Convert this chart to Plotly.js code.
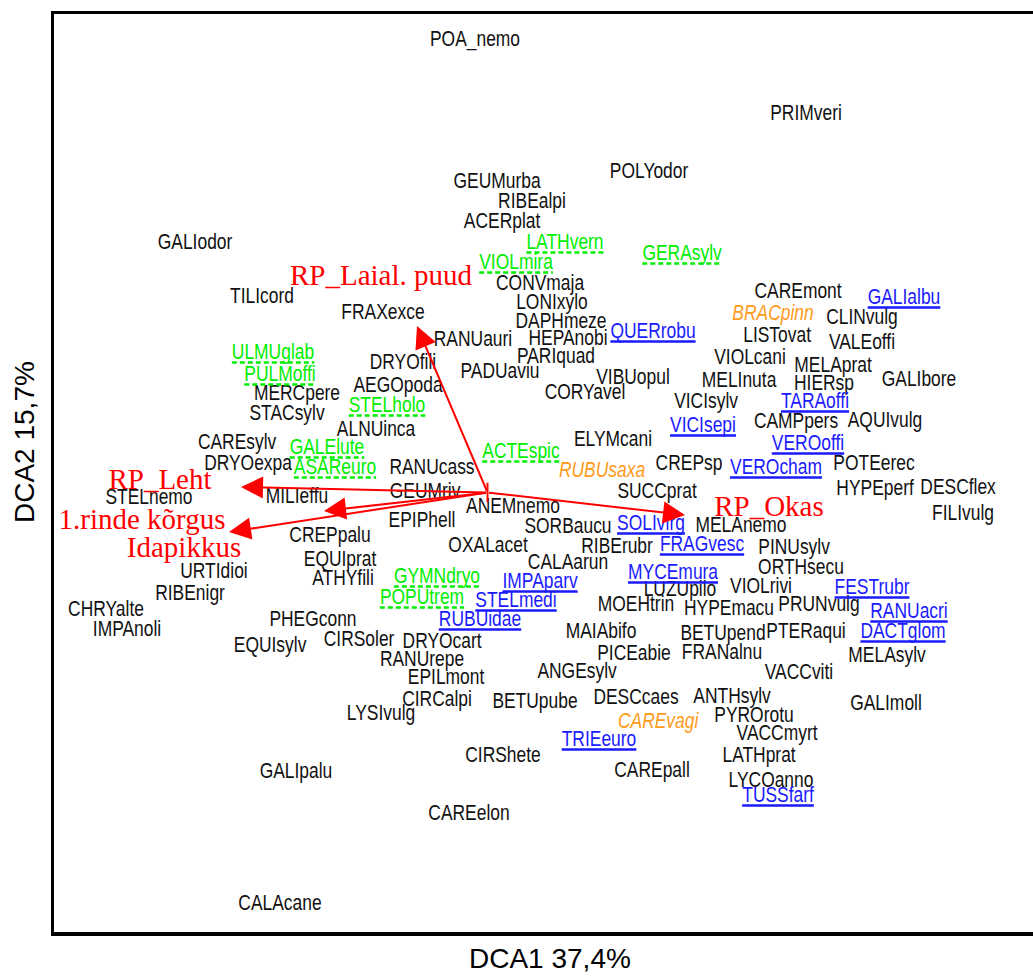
<!DOCTYPE html>
<html><head><meta charset="utf-8">
<script src="https://cdn.plot.ly/plotly-3.0.1.min.js"></script>
<style>html,body{margin:0;padding:0;background:#fff;}#chart{width:1033px;height:978px;}</style>
</head><body><div id="chart"></div>
<script>
// ---- species scores (DCA1, DCA2) ----
const blackNames = ["POA_nemo","PRIMveri","GEUMurba","POLYodor","RIBEalpi","ACERplat","GALIodor","CONVmaja","TILIcord","LONIxylo","CAREmont","FRAXexce","DAPHmeze","CLINvulg","RANUauri","HEPAnobi","LISTovat","VALEoffi","DRYOfili","PARIquad","VIOLcani","MELAprat","AEGOpoda","PADUaviu","VIBUopul","MELInuta","HIERsp","GALIbore","MERCpere","CORYavel","STACsylv","CAMPpers","AQUIvulg","ALNUinca","VICIsylv","CAREsylv","ELYMcani","DRYOexpa","RANUcass","CREPsp","POTEerec","STELnemo","MILIeffu","GEUMriv","SUCCprat","HYPEperf","DESCflex","ANEMnemo","EPIPhell","SORBaucu","MELAnemo","FILIvulg","CREPpalu","OXALacet","RIBErubr","PINUsylv","CALAarun","EQUIprat","URTIdioi","ORTHsecu","ATHYfili","RIBEnigr","LUZUpilo","VIOLrivi","CHRYalte","HYPEmacu","MOEHtrin","PRUNvulg","IMPAnoli","PHEGconn","EQUIsylv","CIRSoler","DRYOcart","MAIAbifo","BETUpend","PTERaqui","RANUrepe","PICEabie","FRANalnu","MELAsylv","EPILmont","ANGEsylv","VACCviti","CIRCalpi","BETUpube","DESCcaes","ANTHsylv","GALImoll","LYSIvulg","PYROrotu","VACCmyrt","CIRShete","LATHprat","GALIpalu","CAREpall","LYCOanno","CAREelon","CALAcane"];
const blackX = [4.21,7.52,4.43,5.95,4.78,4.48,1.41,4.86,2.08,4.98,7.44,3.29,5.07,8.08,4.19,5.14,7.23,8.08,3.49,5.02,6.96,7.79,3.44,4.46,5.79,6.85,7.70,8.65,2.43,5.31,2.33,7.42,8.31,3.22,6.52,1.83,5.59,1.94,3.78,6.35,8.20,0.95,2.43,3.71,6.03,8.21,9.04,4.59,3.68,5.14,6.87,9.09,2.76,4.34,5.63,7.40,5.14,2.86,1.60,7.47,2.89,1.36,6.26,7.07,0.52,6.75,5.82,7.65,0.73,2.59,2.16,3.05,3.88,5.47,6.69,7.52,3.68,5.80,6.68,8.33,3.92,5.23,7.45,3.83,4.81,5.82,6.78,8.32,3.27,7.00,7.23,4.49,7.05,2.42,5.98,7.17,4.15,2.26];
const blackY = [8.92,8.18,7.50,7.60,7.30,7.10,6.89,6.48,6.35,6.29,6.40,6.19,6.10,6.14,5.92,5.93,5.96,5.89,5.69,5.75,5.74,5.66,5.46,5.60,5.54,5.51,5.48,5.52,5.38,5.39,5.18,5.10,5.11,5.02,5.30,4.89,4.92,4.68,4.64,4.68,4.68,4.34,4.35,4.40,4.40,4.43,4.44,4.25,4.11,4.05,4.06,4.18,3.96,3.86,3.85,3.84,3.69,3.72,3.60,3.64,3.53,3.38,3.42,3.45,3.22,3.23,3.27,3.27,3.02,3.12,2.86,2.92,2.90,3.00,2.98,3.00,2.72,2.78,2.79,2.76,2.54,2.60,2.59,2.32,2.30,2.34,2.35,2.28,2.18,2.16,1.98,1.76,1.76,1.60,1.61,1.51,1.18,0.28];

const greenNames = ["LATHvern","VIOLmira","GERAsylv","ULMUglab","PULMoffi","STELholo","GALElute","ASAReuro","ACTEspic","GYMNdryo","POPUtrem"];
const greenX = [5.11,4.62,6.28,2.19,2.26,3.33,2.73,2.81,4.67,3.83,3.68];
const greenY = [6.89,6.69,6.78,5.79,5.57,5.26,4.84,4.64,4.80,3.55,3.34];

const blueNames = ["GALIalbu","QUERrobu","TARAoffi","VICIsepi","VEROoffi","VEROcham","SOLIvirg","FRAGvesc","MYCEmura","IMPAparv","FESTrubr","STELmedi","RANUacri","RUBUidae","DACTglom","TRIEeuro","TUSSfarf"];
const blueX = [8.50,5.99,7.61,6.49,7.54,7.22,5.97,6.48,6.19,4.86,8.18,4.62,8.55,4.26,8.49,5.45,7.24];
const blueY = [6.34,6.00,5.30,5.06,4.88,4.64,4.08,3.87,3.59,3.50,3.44,3.31,3.20,3.12,3.00,1.92,1.36];

const orangeNames = ["BRACpinn","RUBUsaxa","CAREvagi"];
const orangeX = [7.19,5.48,6.04];
const orangeY = [6.18,4.61,2.10];

// ---- environmental variables (arrows from the origin) ----
const envNames = ["RP_Laial. puud","RP_Leht","1.rinde kõrgus","Idapikkus","RP_Okas"];
const envTipX = [3.63,1.87,1.75,2.70,6.31];
const envTipY = [6.06,4.45,4.00,4.21,4.17];
const envLabelX = [3.27,1.06,0.88,1.30,7.15];
const envLabelY = [6.54,4.50,4.10,3.82,4.23];
const originX = 4.335, originY = 4.395;

// ---- layout constants ----
const W = 1033, H = 978;
const M = {l:54, r:0, t:14, b:46};
const xRange = [0, 9.79], yRange = [0, 9.18];
const LABEL_FONT = '"Liberation Sans", Arial, sans-serif';
const LABEL_SIZE = 22.5;
const NARROW = 0.775; // horizontal squeeze to imitate a narrow face

const C_BLACK = '#111111', C_GREEN = '#00ee00', C_BLUE = '#1a1aff', C_ORANGE = '#ff9a1a', C_RED = '#ff0000';

function textTrace(names, xs, ys, color) {
  return {
    type:'scatter', mode:'text', x:xs, y:ys, text:names,
    textposition:'middle center', hoverinfo:'skip', showlegend:false,
    textfont:{family:LABEL_FONT, size:LABEL_SIZE, color:color}
  };
}

const traces = [
  textTrace(blackNames, blackX, blackY, C_BLACK),
  textTrace(greenNames, greenX, greenY, C_GREEN),
  textTrace(blueNames, blueX, blueY, C_BLUE),
  textTrace(orangeNames, orangeX, orangeY, C_ORANGE),
  {type:'scatter', mode:'text', x:envLabelX, y:envLabelY, text:envNames,
   textposition:'middle center', hoverinfo:'skip', showlegend:false,
   textfont:{family:'"Liberation Serif", "Times New Roman", serif', size:29, color:C_RED}},
  {type:'scatter', mode:'markers', x:[originX], y:[originY], hoverinfo:'skip', showlegend:false,
   marker:{symbol:'line-ns', size:14, line:{color:C_RED, width:2}}}
];
traces[3].textfont.style = 'italic';

// underline shapes (measured text widths)
const plotW = W - M.l - M.r, plotH = H - M.t - M.b;
const pxPerX = plotW / (xRange[1]-xRange[0]);
const pxPerY = plotH / (yRange[1]-yRange[0]);
const ctx = document.createElement('canvas').getContext('2d');
ctx.font = LABEL_SIZE + 'px ' + LABEL_FONT;
const shapes = [];
function underline(names, xs, ys, color, dash) {
  names.forEach((n, i) => {
    const w = ctx.measureText(n).width * NARROW / pxPerX;
    const yy = ys[i] - 9.5 / pxPerY;
    shapes.push({type:'line', xref:'x', yref:'y', x0:xs[i]-w/2, x1:xs[i]+w/2, y0:yy, y1:yy,
      line:{color:color, width:2.5, dash:dash}});
  });
}
underline(greenNames, greenX, greenY, C_GREEN, '5px,3px');
underline(blueNames, blueX, blueY, C_BLUE, 'solid');

const annotations = envNames.map((n, i) => ({
  x:envTipX[i], y:envTipY[i], ax:originX, ay:originY,
  xref:'x', yref:'y', axref:'x', ayref:'y', text:'',
  showarrow:true, arrowhead:2, arrowsize:2.2, arrowwidth:2, arrowcolor:C_RED
}));
annotations.push({xref:'paper', yref:'paper', x:(549.5-M.l)/plotW, y:(M.t+plotH-958)/plotH,
  xanchor:'center', yanchor:'middle', showarrow:false, text:'DCA1 37,4%',
  font:{family:'"Liberation Sans", Arial, sans-serif', size:28, color:'#000'}});
annotations.push({xref:'paper', yref:'paper', x:(24-M.l)/plotW, y:(M.t+plotH-442)/plotH,
  xanchor:'center', yanchor:'middle', showarrow:false, text:'DCA2 15,7%', textangle:-90,
  font:{family:'"Liberation Sans", Arial, sans-serif', size:28, color:'#000'}});

const axisBase = {showgrid:false, zeroline:false, showticklabels:false, ticks:'',
  showline:true, linecolor:'#000', linewidth:3.5, fixedrange:true};

const layout = {
  width:W, height:H, margin:M, paper_bgcolor:'#fff', plot_bgcolor:'#fff',
  xaxis:Object.assign({}, axisBase, {range:xRange, mirror:true}),
  yaxis:Object.assign({}, axisBase, {range:yRange, mirror:false}),
  shapes:shapes, annotations:annotations, showlegend:false
};

Plotly.newPlot('chart', traces, layout, {staticPlot:true, displayModeBar:false}).then(gd => {
  // squeeze the species labels horizontally about their own centres
  const traceGroups = gd.querySelectorAll('.scatterlayer .trace');
  for (let k = 0; k < 4 && k < traceGroups.length; k++) {
    traceGroups[k].querySelectorAll('g.textpoint text').forEach(el => {
      const bb = el.getBBox();
      const cx = bb.x + bb.width / 2;
      const t = el.getAttribute('transform') || '';
      el.setAttribute('transform', (t + ' translate(' + cx + ',0) scale(' + NARROW + ',1) translate(' + (-cx) + ',0)').trim());
    });
  }
});
</script>
</body></html>
